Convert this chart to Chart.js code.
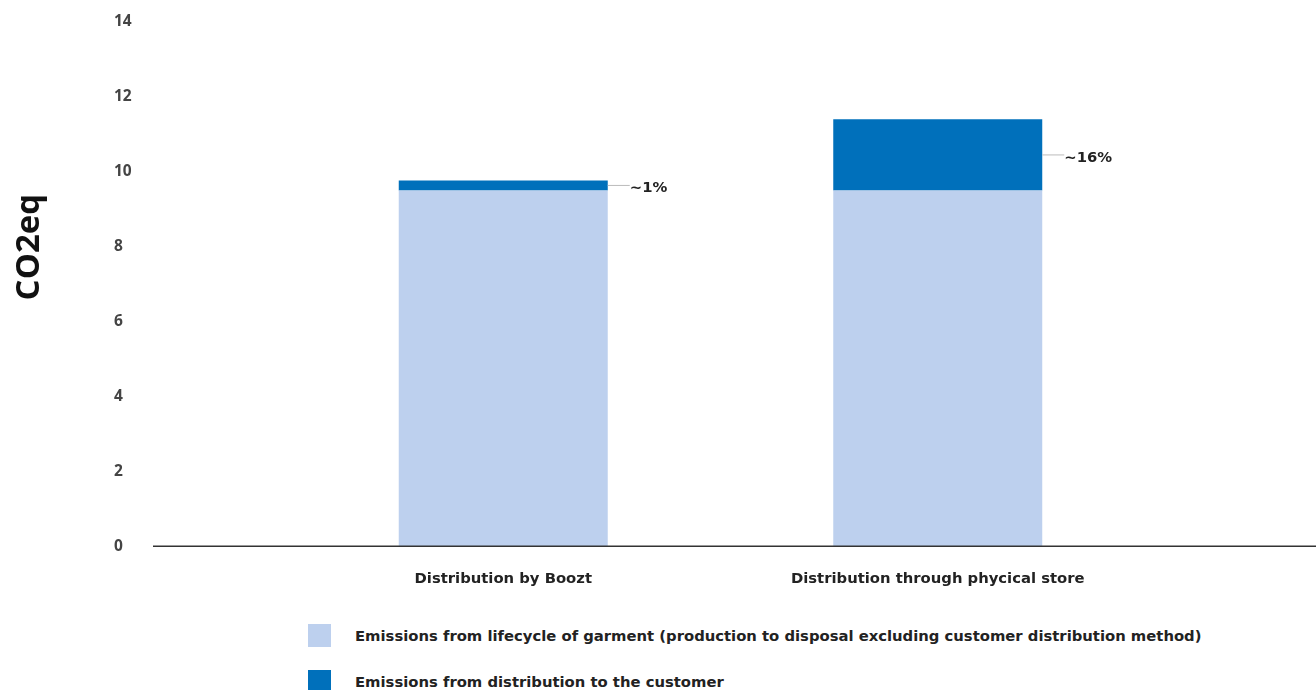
<!DOCTYPE html>
<html>
<head>
<meta charset="utf-8">
<script src="https://cdn.jsdelivr.net/npm/chart.js@4"></script>
<style>
  body { margin: 0; background: #fff; font-family: "DejaVu Sans", sans-serif; }
  #wrap { position: relative; width: 1316px; height: 690px; }
  #holder { position: absolute; left: 0; top: 0; width: 1316px; height: 620px; }
  #legend { position: absolute; left: 308px; top: 624px; }
  .item { display: flex; align-items: center; height: 23px; margin-bottom: 23px; }
  .box { width: 23px; height: 23px; margin-right: 24px; }
  .txt { font-weight: 700; font-size: 14.8px; color: #222; }
</style>
</head>
<body>
<div id="wrap">
  <div id="holder"><canvas id="Chart"></canvas></div>
  <div id="legend"></div>
</div>
<script>
xValues = ["Distribution by Boozt", "Distribution through phycical store"];
lifecycleValues = [9.5, 9.5];
distributionValues = [0.27, 1.9];
shareLabels = ["~1%", "~16%"];
seriesNames = [
    "Emissions from lifecycle of garment (production to disposal excluding customer distribution method)",
    "Emissions from distribution to the customer"
];
seriesColors = ["rgb(189,208,238)", "rgb(0,112,187)"];
yTicks = [0, 2, 4, 6, 8, 10, 12, 14];
let myChart;

// baseline runs wider than the bars area, plus the ~x% notes and the axis title
const extras = {
    id: "extras",
    afterDraw(chart) {
        const ctx = chart.ctx;
        const y = chart.scales.y;
        const base = y.getPixelForValue(0);
        ctx.save();
        ctx.strokeStyle = "#333";
        ctx.lineWidth = 1.5;
        ctx.beginPath();
        ctx.moveTo(y.left + 39, base);
        ctx.lineTo(chart.width, base);
        ctx.stroke();

        const meta = chart.getDatasetMeta(1);
        meta.data.forEach((bar, i) => {
            const right = bar.x + bar.width / 2;
            const mid = (bar.y + bar.base) / 2;
            ctx.strokeStyle = "#bbb";
            ctx.lineWidth = 1;
            ctx.beginPath();
            ctx.moveTo(right, mid);
            ctx.lineTo(right + 22, mid);
            ctx.stroke();
            ctx.fillStyle = "#222";
            ctx.font = "bold 14.8px 'DejaVu Sans'";
            ctx.textBaseline = "middle";
            ctx.textAlign = "left";
            ctx.fillText(shareLabels[i], right + 22, mid + 3);
        });

        ctx.translate(30, (chart.chartArea.top + chart.chartArea.bottom) / 2 - 37);
        ctx.rotate(-Math.PI / 2);
        ctx.fillStyle = "#111";
        ctx.font = "bold 33px 'Open Sans'";
        ctx.textAlign = "center";
        ctx.textBaseline = "middle";
        ctx.fillText("CO2eq", 0, 0);
        ctx.restore();
    }
};

function createChart() {
    myChart = new Chart("Chart", {
        type: "bar",
        data: {
            labels: xValues,
            datasets: [{
                label: seriesNames[0],
                backgroundColor: seriesColors[0],
                data: lifecycleValues
            }, {
                label: seriesNames[1],
                backgroundColor: seriesColors[1],
                data: distributionValues
            }]
        },
        plugins: [extras],
        options: {
            responsive: true,
            maintainAspectRatio: false,
            animation: false,
            datasets: { bar: { barPercentage: 0.481, categoryPercentage: 1 } },
            layout: { padding: { left: 114, right: 161, top: 22, bottom: 8 } },
            plugins: {
                legend: { display: false },
                tooltip: { enabled: false }
            },
            scales: {
                x: {
                    stacked: true,
                    grid: { display: false, drawTicks: false },
                    border: { display: false },
                    ticks: {
                        padding: 24,
                        color: "#222",
                        font: { family: "DejaVu Sans", size: 14.8, weight: "bold" }
                    }
                },
                y: {
                    stacked: true,
                    min: 0,
                    max: 14,
                    afterFit(scale) { scale.width = 172; },
                    afterBuildTicks(scale) { scale.ticks = yTicks.map(v => ({ value: v })); },
                    grid: { display: false, drawTicks: false },
                    border: { display: false },
                    ticks: {
                        crossAlign: "far",
                        color: "#444",
                        font: { family: "Open Sans", size: 15.5, weight: "bold" }
                    }
                }
            }
        }
    });
}

function buildLegend() {
    const el = document.getElementById("legend");
    seriesNames.forEach((name, i) => {
        const row = document.createElement("div");
        row.className = "item";
        row.innerHTML = `<div class="box" style="background:${seriesColors[i]}"></div><div class="txt">${name}</div>`;
        el.appendChild(row);
    });
}

createChart();
buildLegend();
</script>
</body>
</html>
